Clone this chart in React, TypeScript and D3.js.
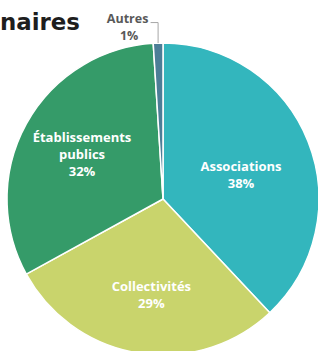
import * as d3 from 'd3';
import React, { useEffect, useRef } from 'react';

// chart data
const categories = ['Associations', 'Collectivités', 'Établissements publics', 'Autres'];
const shares = [38, 29, 32, 1];
const colors = ['#33B6BD', '#C9D46C', '#359B69', '#4C7E97'];
const labelLines = [['Associations'], ['Collectivités'], ['Établissements', 'publics'], ['Autres']];
const titleText = 'naires';

const W = 318;
const H = 351;

const App = () => {
	const chartRef = useRef<SVGSVGElement>(null);

	useEffect(() => {
		drawPie();
	}, []);

	const drawPie = () => {
		const svg = d3.select(chartRef.current);
		svg.selectAll('*').remove();

		const cx = 163, cy = 199, radius = 156;
		const g = svg.append('g').attr('transform', 'translate(' + cx + ',' + cy + ')');

		const data = categories.map((c, i) => ({ name: c, value: shares[i], color: colors[i], lines: labelLines[i] }));

		const pie = d3.pie<any>().sort(null).value((d: any) => d.value);
		const arc = d3.arc<any>().innerRadius(0).outerRadius(radius);
		const labelArc = d3.arc<any>().innerRadius(radius * 0.6).outerRadius(radius * 0.6);
		const arcs = pie(data);

		g.selectAll('path')
			.data(arcs)
			.enter().append('path')
			.attr('d', arc)
			.attr('fill', (d: any) => d.data.color)
			.attr('stroke', '#fff')
			.attr('stroke-width', 1.5)
			.attr('stroke-linejoin', 'round');

		// small layout nudges to sit like the original labels
		const nudge: Record<string, [number, number]> = {
			'Associations': [-9, 10],
			'Collectivités': [3, 4],
			'Établissements publics': [1, 1],
		};

		const lineH = 17;
		arcs.filter((d: any) => d.data.name !== 'Autres').forEach((d: any) => {
			const [x0, y0] = labelArc.centroid(d);
			const [nx, ny] = nudge[d.data.name];
			const lines = [...d.data.lines, d.data.value + '%'];
			const top = y0 + ny - ((lines.length - 1) * lineH) / 2 + 4.5;
			const t = g.append('text')
				.attr('text-anchor', 'middle')
				.style('fill', '#fff')
				.style('font-family', '"Open Sans", sans-serif')
				.style('font-weight', 'bold')
				.style('font-size', '13px');
			lines.forEach((ln, i) => {
				t.append('tspan').attr('x', x0 + nx).attr('y', top + i * lineH).text(ln);
			});
		});

		// Autres: outside label with leader line
		const other = arcs.find((d: any) => d.data.name === 'Autres');
		if (other) {
			const mid = (other.startAngle + other.endAngle) / 2;
			const px = Math.sin(mid) * radius;
			const py = -Math.cos(mid) * radius;
			const elbowY = py - 20.5;
			g.append('polyline')
				.attr('points', [[px, py], [px, elbowY], [px - 7.5, elbowY]].map(p => p.join(',')).join(' '))
				.attr('fill', 'none')
				.attr('stroke', '#A6A6A6')
				.attr('stroke-width', 1);
			const t = g.append('text')
				.attr('text-anchor', 'middle')
				.style('fill', '#595959')
				.style('font-family', '"Open Sans", sans-serif')
				.style('font-weight', 'bold')
				.style('font-size', '12.5px');
			const lx = px - 7.5 - 23;
			t.append('tspan').attr('x', lx).attr('y', elbowY + 0.5).text(other.data.lines[0]);
			t.append('tspan').attr('x', lx + 1.5).attr('y', elbowY + 17.5).text(other.data.value + '%');
		}

		// title (only its tail is visible in the source crop)
		svg.append('text')
			.text(titleText)
			.attr('x', 80)
			.attr('y', 30)
			.attr('text-anchor', 'end')
			.attr('textLength', 80)
			.attr('lengthAdjust', 'spacingAndGlyphs')
			.style('fill', '#1E1E1E')
			.style('font-family', '"DejaVu Sans", sans-serif')
			.style('font-weight', 'bold')
			.style('font-size', '23px');
	};

	return (
		<div style={{ position: 'absolute', left: 0, top: 0, width: W, height: H, background: '#fff' }}>
			<svg ref={chartRef} width={W} height={H} style={{ display: 'block' }}></svg>
		</div>
	);
};

export default App;
